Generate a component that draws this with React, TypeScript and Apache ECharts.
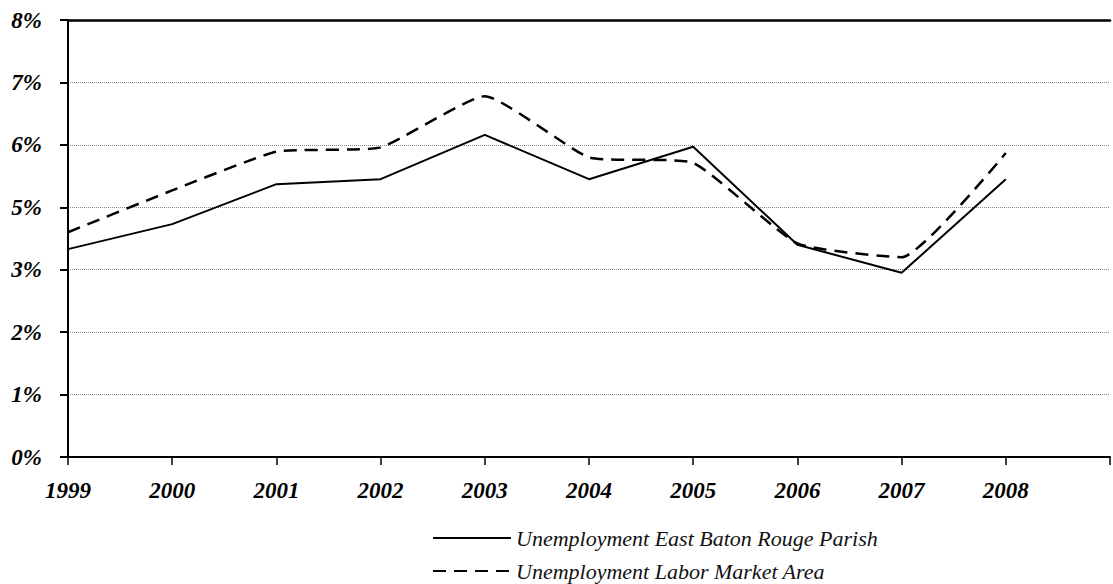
import React, { useEffect, useRef } from "react";
import * as echarts from "echarts";

// Years shown on the x axis
const years = [1999, 2000, 2001, 2002, 2003, 2004, 2005, 2006, 2007, 2008];
// Printed y tick labels, bottom to top (as printed in the original, "4%" is absent)
const yTickLabels = ["0%", "1%", "2%", "3%", "5%", "6%", "7%", "8%"];
// Series values (on the printed scale; gridlines sit at 1..8)
const eastBatonRouge = [4.33, 4.73, 5.37, 5.45, 6.16, 5.45, 5.97, 4.4, 3.95, 5.45];
const laborMarketArea = [4.6, 5.27, 5.89, 5.96, 6.78, 5.8, 5.71, 4.42, 4.2, 5.87];

const seriesNames = [
  "Unemployment East Baton Rouge Parish",
  "Unemployment Labor Market Area",
];

const FONT = "'Liberation Serif', 'Times New Roman', serif";

export default function App() {
  const ref = useRef<HTMLDivElement>(null);
  useEffect(() => {
    if (!ref.current) return;
    const chart = echarts.init(ref.current, null, { renderer: "svg" });
    const toPairs = (arr: number[]) => years.map((y, i) => [y, arr[i]]);
    const legendBase = {
      show: true,
      orient: "horizontal",
      left: 432,
      padding: 0,
      itemWidth: 78,
      itemHeight: 14,
      itemGap: 10,
      itemStyle: { opacity: 0 },
      textStyle: {
        fontFamily: FONT,
        fontSize: 22,
        fontStyle: "italic",
        color: "#111",
        lineHeight: 22,
      },
    };
    chart.setOption({
      animation: false,
      backgroundColor: "#fff",
      grid: { left: 68, top: 20, bottom: 127, right: -8 },
      xAxis: [
        {
          type: "value",
          min: 1999,
          max: 2009,
          interval: 1,
          axisLine: { show: true, lineStyle: { color: "#000", width: 2 } },
          axisTick: { show: true, length: 8, lineStyle: { color: "#000", width: 1.5 } },
          axisLabel: {
            margin: 22,
            fontFamily: FONT,
            fontSize: 23,
            fontWeight: "bold",
            fontStyle: "italic",
            color: "#000",
            formatter: (v: number) => (v <= 2008 ? String(v) : ""),
          },
          splitLine: { show: false },
        },
        {
          type: "value",
          position: "top",
          min: 1999,
          max: 2009,
          interval: 1,
          axisLine: { show: true, onZero: false, lineStyle: { color: "#000", width: 2.5 } },
          axisTick: { show: false },
          axisLabel: { show: false },
          splitLine: { show: false },
        },
      ],
      yAxis: {
        type: "value",
        min: 1,
        max: 8,
        interval: 1,
        axisLine: { show: true, lineStyle: { color: "#000", width: 2 } },
        axisTick: { show: true, length: 8, lineStyle: { color: "#000", width: 2 } },
        axisLabel: {
          margin: 26,
          fontFamily: FONT,
          fontSize: 23,
          fontWeight: "bold",
          fontStyle: "italic",
          color: "#000",
          formatter: (v: number) => yTickLabels[Math.round(v) - 1] ?? "",
        },
        splitLine: {
          show: true,
          lineStyle: { color: "#8a8a8a", width: 1, type: [1, 1] },
        },
      },
      legend: [
        { ...legendBase, top: 527, data: [seriesNames[0]] },
        { ...legendBase, top: 560, data: [seriesNames[1]] },
      ],
      series: [
        {
          name: seriesNames[0],
          type: "line",
          data: toPairs(eastBatonRouge),
          showSymbol: false,
          symbol: "none",
          lineStyle: { color: "#000", width: 2 },
          itemStyle: { color: "#000" },
        },
        {
          name: seriesNames[1],
          type: "line",
          data: toPairs(laborMarketArea),
          showSymbol: false,
          symbol: "none",
          smooth: 0.15,
          lineStyle: { color: "#000", width: 2.5, type: [13, 8] },
          itemStyle: { color: "#000" },
        },
      ],
    });
    return () => chart.dispose();
  }, []);
  return (
    <div
      ref={ref}
      style={{ position: "absolute", left: 0, top: 0, width: 1113, height: 584 }}
    />
  );
}
